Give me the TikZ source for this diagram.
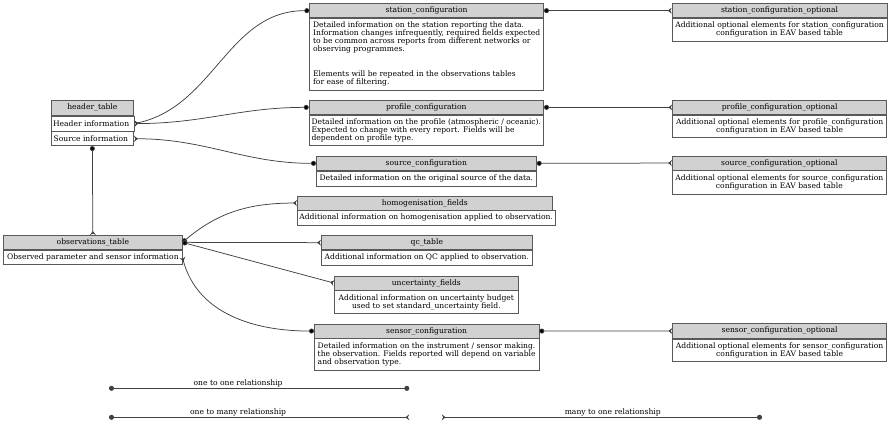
\documentclass[tikz,border=0pt]{standalone}
\usepackage{fontspec}
\setmainfont{DejaVu Serif}
\usetikzlibrary{arrows.meta, positioning}

\newcommand{\tabfont}{\fontsize{7.6}{8}\selectfont}

\tikzset{
  one/.tip={Circle[length=5pt]},
  many/.tip={Stealth[reversed, length=3.8pt, width=6pt, inset=1.5pt]},
  tabhead/.style={draw=black!65, fill=black!18, line width=0.7pt, anchor=north west,
    inner sep=0pt, minimum height=14pt, font=\tabfont},
  tabbody/.style={draw=black!65, fill=white, line width=0.7pt, anchor=north west,
    inner xsep=2pt, inner ysep=1pt, font=\tabfont},
  rel/.style={draw=black!75, line width=0.75pt},
  legend/.style={font=\tabfont, above, inner sep=0.6pt}
}

\begin{document}
\begin{tikzpicture}[x=1pt, y={(0,-1pt)}]
  \useasboundingbox (0,0) rectangle (889,429);

  % header table
  \node[tabhead, minimum width=82.6pt, minimum height=15pt] (hdr) at (50.7,100) {header\_table};
  \node[tabbody, minimum width=82.6pt, minimum height=15pt, align=left] (hdrinfo) at (hdr.south west) {Header information\hspace{3pt}};
  \node[tabbody, minimum width=82.6pt, minimum height=14pt, align=left] (srcinfo) at (hdrinfo.south west) {Source information\hspace{3pt}};

  % configuration tables
  \node[tabhead, minimum width=234pt] (station) at (309.3,3.3) {station\_configuration};
  \node[tabbody, minimum width=234pt, minimum height=72pt, align=left] (stationB) at (station.south west)
    {Detailed information on the station reporting the data.\\
     Information changes infrequently, required fields expected\\
     to be common across reports from different networks or\\
     observing programmes.\\[17pt]
     Elements will be repeated in the observations tables\\
     for ease of filtering.};

  \node[tabhead, minimum width=234.6pt] (profile) at (308.7,100) {profile\_configuration};
  \node[tabbody, minimum width=234.6pt, minimum height=30.7pt, align=left] (profileB) at (profile.south west)
    {Detailed information on the profile (atmospheric / oceanic).\\
     Expected to change with every report. Fields will be\\
     dependent on profile type.};

  \node[tabhead, minimum width=220pt] (source) at (316,156) {source\_configuration};
  \node[tabbody, minimum width=220pt, minimum height=15pt] (sourceB) at (source.south west)
    {Detailed information on the original source of the data.};

  % optional tables
  \node[tabhead, minimum width=215pt] (stationopt) at (671.7,3.3) {station\_configuration\_optional};
  \node[tabbody, minimum width=215pt, minimum height=23pt, align=center] (stationoptB) at (stationopt.south west)
    {Additional optional elements for station\_configuration\\ configuration in EAV based table};

  \node[tabhead, minimum width=214pt] (profileopt) at (672.3,100) {profile\_configuration\_optional};
  \node[tabbody, minimum width=214pt, minimum height=22.7pt, align=center] (profileoptB) at (profileopt.south west)
    {Additional optional elements for profile\_configuration\\ configuration in EAV based table};

  \node[tabhead, minimum width=214pt] (sourceopt) at (672,155.7) {source\_configuration\_optional};
  \node[tabbody, minimum width=214pt, minimum height=23.6pt, align=center] (sourceoptB) at (sourceopt.south west)
    {Additional optional elements for source\_configuration\\ configuration in EAV based table};

  \node[tabhead, minimum width=214pt, minimum height=14.7pt] (sensoropt) at (672.3,323.3) {sensor\_configuration\_optional};
  \node[tabbody, minimum width=214pt, minimum height=22.7pt, align=center] (sensoroptB) at (sensoropt.south west)
    {Additional optional elements for sensor\_configuration\\ configuration in EAV based table};

  % observations and linked tables
  \node[tabhead, minimum width=178.4pt] (obs) at (3.3,235) {observations\_table};
  \node[tabbody, minimum width=178.4pt, minimum height=14.7pt, align=left] (obsB) at (obs.south west)
    {Observed parameter and sensor information};

  \node[tabhead, minimum width=255pt] (homog) at (297,195.7) {homogenisation\_fields};
  \node[tabbody, minimum width=255pt, minimum height=14.3pt] (homogB) at (homog.south west)
    {Additional information on homogenisation applied to observation.};

  \node[tabhead, minimum width=211pt] (qc) at (321,235.3) {qc\_table};
  \node[tabbody, minimum width=211pt, minimum height=14.7pt] (qcB) at (qc.south west)
    {Additional information on QC applied to observation.};

  \node[tabhead, minimum width=184pt] (uncert) at (334,275.7) {uncertainty\_fields};
  \node[tabbody, minimum width=184pt, minimum height=23pt, align=center] (uncertB) at (uncert.south west)
    {Additional information on uncertainty budget\\ used to set standard\_uncertainty field.};

  \node[tabhead, minimum width=224.6pt] (sensor) at (314,323.7) {sensor\_configuration};
  \node[tabbody, minimum width=224.6pt, minimum height=31.7pt, align=left] (sensorB) at (sensor.south west)
    {Detailed information on the instrument / sensor making.\\
     the observation. Fields reported will depend on variable\\
     and observation type.};

  % relationships
  \path[rel]
    (hdrinfo.east) edge[many-one, out=12, in=180] (station.west)
    (hdrinfo.east) edge[many-one, out=0, in=180] (profile.west)
    (srcinfo.east) edge[many-one, out=0, in=180] (source.west)
    (hdr.south |- srcinfo.south) edge[one-many] (obs.north)
    (obs.east) edge[one-many, out=40, in=180] (homog.west)
    (obs.east) edge[one-many] (qc.west)
    (obs.east) edge[one-many] (uncert.west)
    (obsB.east) edge[many-one, out=-75, in=180] (sensor.west)
    (station.east) edge[one-many] (stationopt.west)
    (profile.east) edge[one-many] (profileopt.west)
    (source.east) edge[one-many] (sourceopt.west)
    (sensor.east) edge[one-many] (sensoropt.west);

  % legend
  \coordinate (oneA) at (109,388.3);
  \coordinate (oneB) at (409.3,388.3);
  \coordinate (manyA) at (109,417.3);
  \coordinate (manyB) at (409.3,417.3);
  \coordinate (backA) at (441.7,417.3);
  \coordinate (backB) at (762,417.3);
  \draw[rel, one-one] (oneA) -- node[legend, pos=0.43] {one to one relationship} (oneB);
  \draw[rel, one-many] (manyA) -- node[legend, pos=0.43] {one to many relationship} (manyB);
  \draw[rel, many-one] (backA) -- node[legend, pos=0.534] {many to one relationship} (backB);
\end{tikzpicture}
\end{document}
